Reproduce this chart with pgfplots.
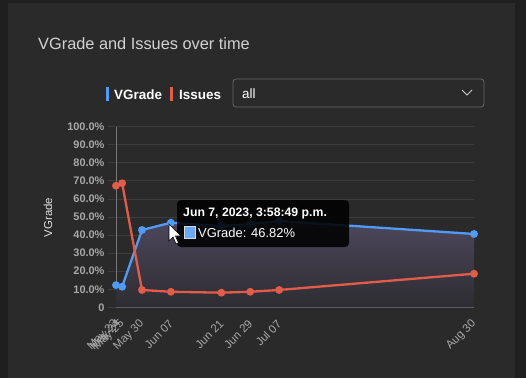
\documentclass[border=0pt]{standalone}
\usepackage{fontspec}
\setmainfont{Liberation Sans}
\usepackage{pgfplots}
\usepackage{pgfplotstable}
\pgfplotsset{compat=1.18}
\definecolor{outerbg}{HTML}{1F1F1F}
\definecolor{panel}{HTML}{2A2A2A}
\definecolor{gridc}{HTML}{3D3D3D}
\definecolor{axisc}{HTML}{777777}
\definecolor{vblue}{HTML}{4F9BF7}
\definecolor{ired}{HTML}{E35B49}
\definecolor{ticktxt}{HTML}{A8A8A8}
\definecolor{titlec}{HTML}{D2D2D2}
\definecolor{filltop}{HTML}{4D475C}
\definecolor{fillbot}{HTML}{2D2C31}
\definecolor{boxborder}{HTML}{686868}

\pgfplotstableread{
x y
-7.2 12.3
-5.5 11.4
0 42.8
8 46.82
22 45.0
30 46.1
38 47.8
92 40.6
}\vgrade
\pgfplotstableread{
x y
-7.2 67.3
-5.5 68.7
0 9.6
8 8.6
22 8.1
30 8.6
38 9.6
92 18.6
}\issues

\begin{document}
\begin{tikzpicture}[x=1bp,y=1bp]
\fill[outerbg] (0,0) rectangle (526,378);
\fill[panel] (8,0) rectangle (515,375);
\useasboundingbox (0,0) rectangle (526,378);
% title
\node[anchor=base west, inner sep=0, text=titlec, font=\fontsize{16.4}{18}\selectfont] at (38,329) {VGrade and Issues over time};
% legend
\fill[vblue] (106,277) rectangle (109,291);
\node[anchor=base west, inner sep=0, text=white, font=\bfseries\fontsize{13.5}{15}\selectfont] at (114,279) {VGrade};
\fill[ired] (170,277) rectangle (173,291);
\node[anchor=base west, inner sep=0, text=white, font=\bfseries\fontsize{13.5}{15}\selectfont] at (179,279) {Issues};
% dropdown
\draw[boxborder, line width=0.8bp, rounded corners=3bp] (233,299) rectangle (484,271);
\node[anchor=base west, inner sep=0, text=white, font=\fontsize{13.5}{15}\selectfont] at (242,280) {all};
\draw[white!80!black, line width=1bp] (462,288) -- (467,283) -- (472,288);
% y label
\node[rotate=90, text=white!88!black, font=\fontsize{11.5}{13}\selectfont] at (48,160.5) {VGrade};

\begin{axis}[
  at={(116bp,70.7bp)}, anchor=south west,
  scale only axis, width=358bp, height=180.6bp,
  xmin=-7.2, xmax=92, ymin=0, ymax=100,
  clip=false,
  axis x line*=bottom, axis y line*=left,
  axis line style={axisc, line width=0.8bp},
  ytick={0,10,...,100},
  yticklabels={0,10.0\%,20.0\%,30.0\%,40.0\%,50.0\%,60.0\%,70.0\%,80.0\%,90.0\%,100.0\%},
  ymajorgrids, grid style={gridc, line width=0.8bp},
  tick align=outside, major tick length=8bp,
  ytick style={gridc, line width=0.8bp},
  xtick style={draw=none},
  xtick={-7.2,-6.4,-5.5,0,8,22,30,38,92},
  xticklabels={May 23,May 24,May 25,May 30,Jun 07,Jun 21,Jun 29,Jul 07,Aug 30},
  yticklabel style={font=\bfseries\fontsize{11}{12}\selectfont, text=ticktxt},
  xticklabel style={font=\fontsize{11.5}{12}\selectfont, text=ticktxt, yshift=-6bp, xshift=1bp, rotate=45, anchor=east, inner sep=1bp},
  /pgf/number format/assume math mode=true,
]
\addplot[draw=none, top color=filltop, bottom color=fillbot, forget plot] table[x=x,y=y] {\vgrade} \closedcycle;
\addplot[vblue, line width=2.3bp, mark=*, mark size=2.7bp, mark options={solid, fill=vblue, draw=vblue}] table[x=x,y=y] {\vgrade};
\addplot[ired, line width=2.3bp, mark=*, mark size=2.7bp, mark options={solid, fill=ired, draw=ired}] table[x=x,y=y] {\issues};
\end{axis}
% tooltip
\fill[black, opacity=0.88, rounded corners=4bp] (177,178) rectangle (349,131);
\node[anchor=base west, inner sep=0, text=white, font=\bfseries\fontsize{12.3}{14}\selectfont] at (183,162) {Jun 7, 2023, 3:58:49 p.m.};
\fill[white!85!black] (184,139) rectangle (196,152);
\fill[vblue!85!white] (185,140) rectangle (195,151);
\node[anchor=base west, inner sep=0, text=white, font=\fontsize{13}{14}\selectfont] at (198,141) {VGrade: 46.82\%};
% cursor
\filldraw[fill=white, draw=black, line width=0.6bp] (169,154) -- (169,137) -- (173,141) -- (176,134) -- (178.5,135) -- (175.5,142) -- (181,142) -- cycle;
\end{tikzpicture}
\end{document}
